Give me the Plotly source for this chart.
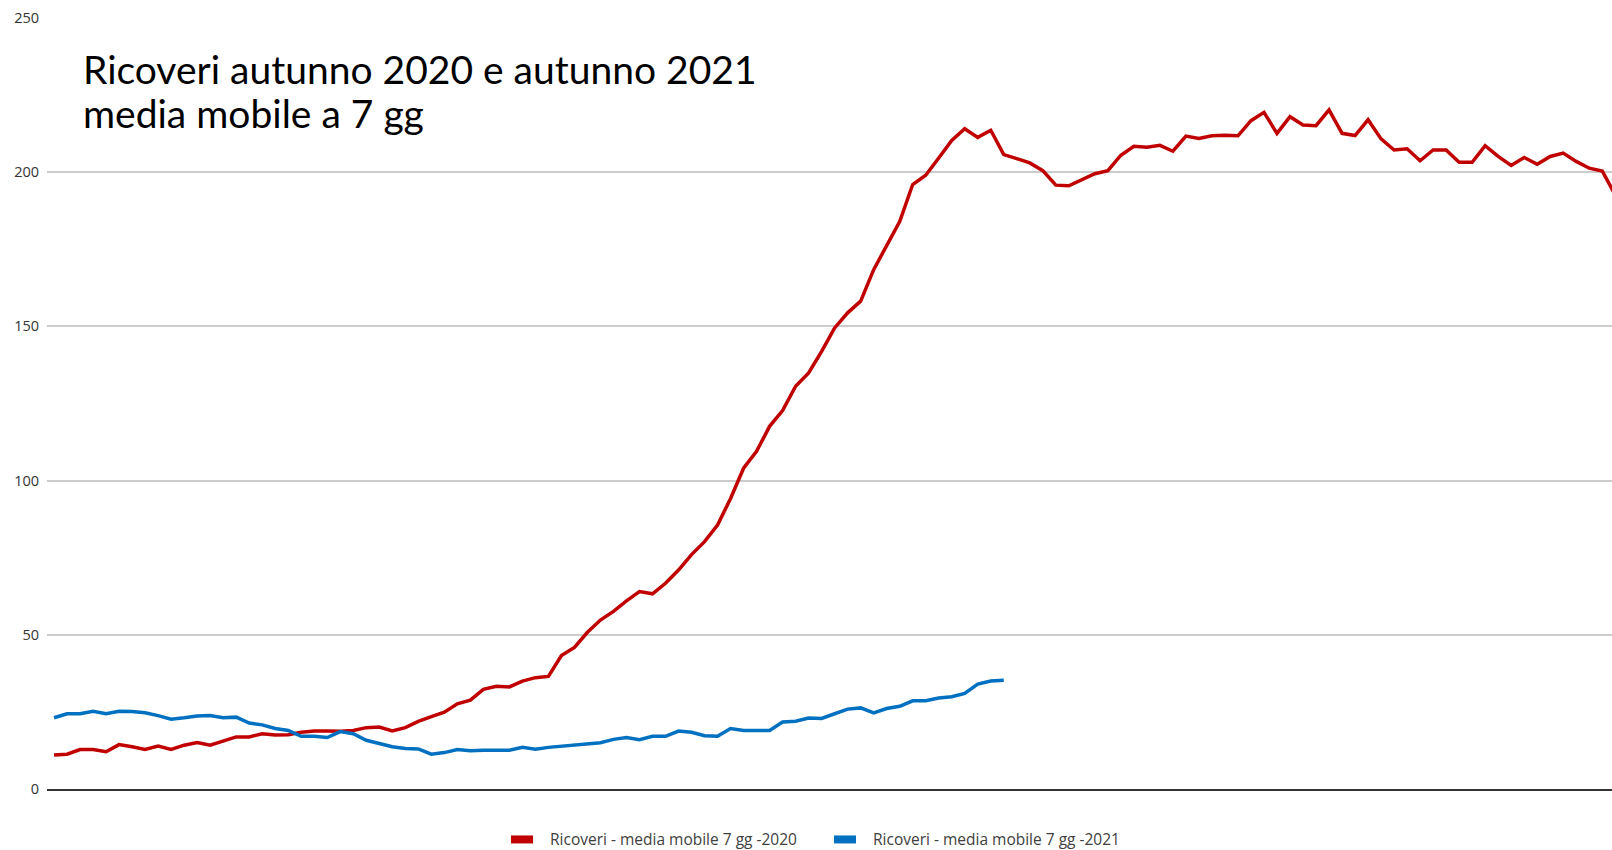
import plotly.graph_objects as go

# ---- data ----
red_2020 = [11.0, 11.3, 12.8, 12.8, 12.1, 14.4, 13.7, 12.8, 13.9, 12.8,
            14.2, 15.1, 14.2, 15.6, 16.9, 16.9, 17.9, 17.5, 17.6, 18.4,
            18.8, 18.8, 18.7, 19.0, 19.9, 20.1, 18.8, 19.9, 21.9, 23.5,
            24.9, 27.6, 28.8, 32.3, 33.3, 33.1, 35.0, 36.1, 36.5, 43.3,
            45.9, 50.8, 54.8, 57.6, 61.0, 64.0, 63.3, 66.7, 71.0, 76.0,
            80.2, 85.6, 94.2, 104.0, 109.5, 117.6, 122.7, 130.6, 134.9, 141.9,
            149.5, 154.4, 158.2, 168.4, 176.0, 184.0, 196.0, 199.0, 204.6, 210.3,
            214.1, 211.3, 213.6, 205.7, 204.4, 203.0, 200.5, 195.8, 195.6, 197.6,
            199.5, 200.5, 205.5, 208.4, 208.1, 208.7, 206.8, 211.7, 210.9, 211.8,
            212.0, 211.8, 216.7, 219.4, 212.6, 218.0, 215.3, 215.1, 220.2, 212.6,
            211.9, 217.0, 210.8, 207.2, 207.6, 203.7, 207.2, 207.2, 203.2, 203.2,
            208.6, 205.1, 202.2, 204.8, 202.6, 205.1, 206.2, 203.5, 201.3, 200.4,
            192.6]

blue_2021 = [23.1, 24.4, 24.4, 25.2, 24.4, 25.2, 25.1, 24.7, 23.8, 22.6,
             23.1, 23.7, 23.8, 23.1, 23.3, 21.4, 20.8, 19.6, 19.0, 17.1,
             17.1, 16.7, 18.6, 17.9, 15.8, 14.7, 13.7, 13.1, 13.0, 11.3,
             11.8, 12.8, 12.4, 12.6, 12.6, 12.6, 13.5, 12.9, 13.5, 13.9,
             14.3, 14.7, 15.0, 16.1, 16.7, 16.0, 17.1, 17.1, 18.8, 18.4,
             17.3, 17.1, 19.6, 19.0, 19.0, 19.0, 21.7, 22.0, 23.0, 22.9,
             24.4, 25.9, 26.3, 24.7, 26.1, 26.8, 28.6, 28.6, 29.5, 29.9,
             31.0, 34.0, 35.0, 35.3]

days_2020 = list(range(len(red_2020)))
days_2021 = list(range(len(blue_2021)))

y_ticks = [0, 50, 100, 150, 200, 250]

name_2020 = "Ricoveri - media mobile 7 gg -2020"
name_2021 = "Ricoveri - media mobile 7 gg -2021"
title_line1 = "Ricoveri autunno 2020 e autunno 2021"
title_line2 = "media mobile a 7 gg"

RED = "#c00000"
BLUE = "#0070c0"

fig = go.Figure()
fig.add_trace(go.Scatter(x=days_2020, y=red_2020, mode="lines", name=name_2020,
                         line=dict(color=RED, width=3.5), showlegend=False,
                         hoverinfo="y"))
fig.add_trace(go.Scatter(x=days_2021, y=blue_2021, mode="lines", name=name_2021,
                         line=dict(color=BLUE, width=3.5), showlegend=False,
                         hoverinfo="y"))

W, H = 1612, 850
L, R, T, B = 47, 0, 17.5, 60.5
ph = H - T - B
pw = W - L - R

def py(Y):
    return (H - B - Y) / ph

def px(X):
    return (X - L) / pw

# legend drawn below the plot: swatch + label for each series
legend_items = [(name_2020, RED, 511, 550), (name_2021, BLUE, 834, 873)]
LEG_Y = 840
shapes = []
annotations = [
    dict(text=title_line1, xref="paper", yref="paper", x=px(81), y=py(44),
         xanchor="left", yanchor="top", showarrow=False,
         font=dict(family="Lato", size=39, color="#000000")),
    dict(text=title_line2, xref="paper", yref="paper", x=px(81), y=py(87.5),
         xanchor="left", yanchor="top", showarrow=False,
         font=dict(family="Lato", size=39, color="#000000")),
]
for label, color, sx, tx in legend_items:
    shapes.append(dict(type="rect", xref="paper", yref="paper",
                       x0=px(sx), x1=px(sx + 22), y0=py(LEG_Y + 4), y1=py(LEG_Y - 4),
                       fillcolor=color, line=dict(width=0)))
    annotations.append(dict(text=label, xref="paper", yref="paper",
                            x=px(tx - 2), y=py(LEG_Y), xanchor="left", yanchor="middle",
                            showarrow=False,
                            font=dict(family="Open Sans", size=15.5, color="#404040")))

fig.update_layout(
    width=W, height=H,
    margin=dict(l=L, r=R, t=T, b=B, pad=0, autoexpand=False),
    paper_bgcolor="white", plot_bgcolor="white",
    xaxis=dict(range=[-0.54, 119.75], showgrid=False, zeroline=False,
               showticklabels=False, showline=True, linecolor="#333333",
               linewidth=2, ticks="", automargin=False),
    yaxis=dict(range=[0, 250], tickvals=y_ticks, showgrid=True,
               gridcolor="#cccccc", gridwidth=1.5, zeroline=False,
               showline=False, ticks="", ticklabelstandoff=7, automargin=False,
               tickfont=dict(family="Open Sans", size=14.5, color="#333333")),
    showlegend=False,
    shapes=shapes,
    annotations=annotations,
)

fig.write_html(
    "out.html",
    config={"displayModeBar": False},
    post_script="document.body.style.margin='0';document.body.style.overflow='hidden';",
)
